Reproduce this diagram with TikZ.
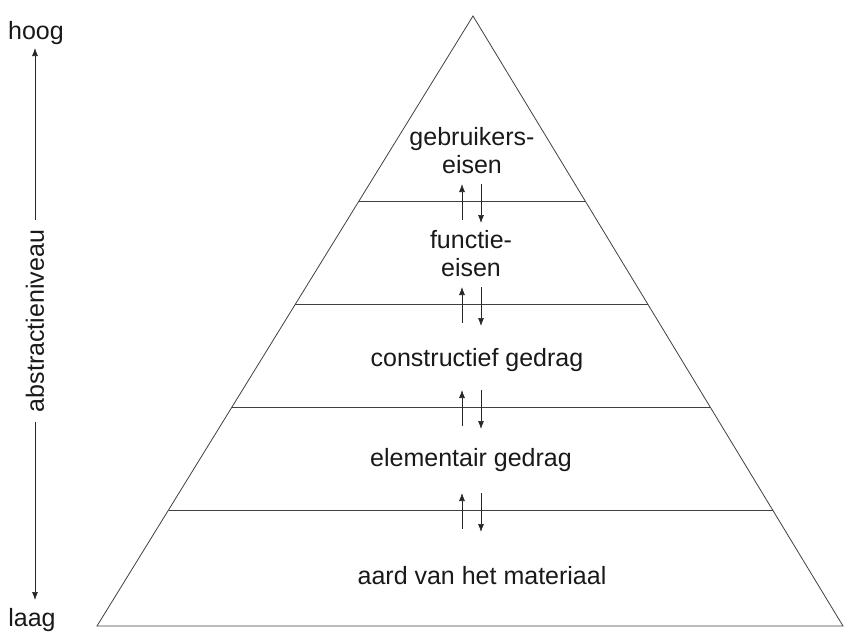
\documentclass[tikz,border=0pt]{standalone}
\usepackage{fontspec}
\setmainfont{Liberation Sans}
\usetikzlibrary{arrows.meta}
\begin{document}
\begin{tikzpicture}[x=1pt,y=-1pt,
  edge/.style={line width=0.8pt,draw=black!75},
  flow/.style={line width=0.7pt,draw=black!85,-{Latex[length=8pt,width=6pt]}},
  lbl/.style={font=\fontsize{25}{28}\selectfont,align=center,inner sep=1pt,text=black!90}]
\useasboundingbox (0,0) rectangle (857,635);
% triangle
\coordinate (apex) at (473,16);
\coordinate (bl) at (97,626);
\coordinate (br) at (843,626);
\draw[edge,line join=miter] (apex) -- (bl) -- (br) -- cycle;
% level lines
\foreach \y/\n in {201/a,304/b,407/c,510/d}{
  \path (apex) -- (bl) coordinate[pos={(\y-16)/610}] (l\n);
  \path (apex) -- (br) coordinate[pos={(\y-16)/610}] (r\n);
  \draw[edge] (l\n) -- (r\n);
}
% labels
\node[lbl] (t1) at (472,151) {gebruikers-\\eisen};
\node[lbl] (t2) at (471,254) {functie-\\eisen};
\node[lbl] (t3) at (477,360) {constructief gedrag};
\node[lbl] (t4) at (471,460) {elementair gedrag};
\node[lbl] (t5) at (482,576) {aard van het materiaal};
% arrow pairs
\foreach \y/\n in {201/a,304/b,407/c,510/d}{
  \coordinate (us\n) at (462,\y+19);
  \coordinate (ue\n) at (462,\y-17);
  \coordinate (ds\n) at (481,\y-17);
  \coordinate (de\n) at (481,\y+22);
  \draw[flow] (us\n) -- (ue\n);
  \draw[flow] (ds\n) -- (de\n);
}
% axis
\node[lbl] (hoog) at (36,33) {hoog};
\node[lbl] (laag) at (32,620) {laag};
\node[lbl,rotate=90,inner sep=10pt] (ax) at (35,321) {abstractieniveau};
\coordinate (axtop) at (35,48);
\coordinate (axbot) at (35,600);
\draw[flow] (ax.east) -- (axtop);
\draw[flow] (ax.west) -- (axbot);
\end{tikzpicture}
\end{document}
